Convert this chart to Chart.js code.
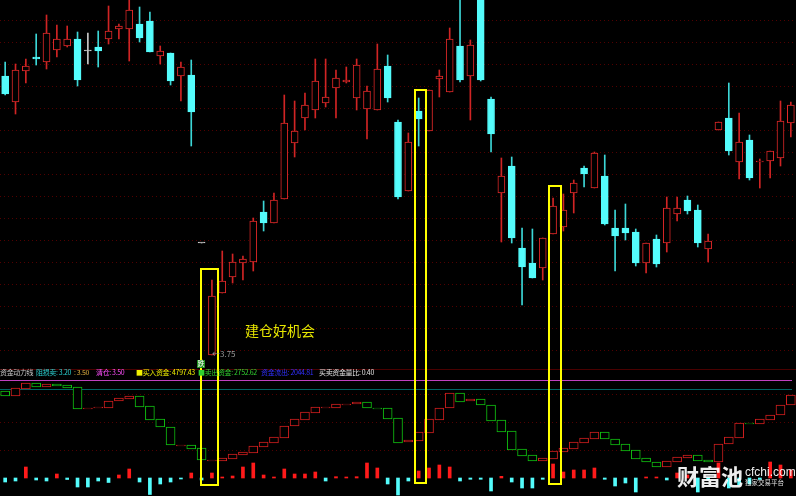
<!DOCTYPE html>
<html><head><meta charset="utf-8">
<script src="https://cdn.jsdelivr.net/npm/chart.js@4/dist/chart.umd.min.js"></script>
<style>
html,body{margin:0;padding:0;background:#000;overflow:hidden}
#wrap{position:relative;width:796px;height:496px;background:#000}
#c{position:absolute;left:0;top:0}
.t{position:absolute;white-space:nowrap;font-family:"Noto Sans CJK SC","Noto Sans",sans-serif;line-height:1}
.lg{top:369px;font-size:7px;letter-spacing:-0.35px}
</style></head><body>
<div id="wrap">
<canvas id="c" width="796" height="496"></canvas>
<span class="t" style="left:245px;top:323px;font-size:14px;color:#e6e600">建仓好机会</span>
<span class="t" style="left:212px;top:350px;font-size:8px;color:#9a9a9a">←3.75</span>
<span class="t" style="left:197px;top:360px;width:8px;height:8px;font-size:7px;background:#1c8c1c;color:#fff;text-align:center">跌</span>
<span class="t lg" style="left:0px;color:#c8c8c8">资金动力线</span>
<span class="t lg" style="left:36px;color:#2ad4d4">阻损卖: 3.20</span>
<span class="t lg" style="left:74px;color:#e0b040">: 3.50</span>
<span class="t lg" style="left:96px;color:#ff50ff">清仓: 3.50</span>
<span class="t lg" style="left:136px;color:#f0f000">■买入资金: 4797.43</span>
<span class="t lg" style="left:198px;color:#30d030">■卖出资金: 2752.62</span>
<span class="t lg" style="left:261px;color:#3030ff">资金流出: 2044.81</span>
<span class="t lg" style="left:319px;color:#e0e0e0">买卖资金量比: 0.40</span>
<span class="t" style="left:677px;top:464px;font-size:22px;font-weight:bold;color:rgba(255,255,255,0.93)">财富池</span>
<span class="t" style="left:745px;top:466px;font-size:12px;color:rgba(255,255,255,0.93);font-family:'Liberation Sans',sans-serif">cfchi.com</span>
<span class="t" style="left:745px;top:479px;font-size:6.5px;color:rgba(255,255,255,0.88)">独家交易平台</span>
</div>
<script>
// ---- price candles (OHLC) ----
const opens = [6.54,6.28,6.59,6.73,6.68,6.80,6.84,6.91,6.79,6.83,
6.91,7.01,7.01,7.06,7.09,6.74,6.77,6.54,6.55,4.87,
3.75,4.37,4.53,4.67,4.68,5.18,5.07,5.31,5.87,6.12,
6.20,6.27,6.42,6.48,6.32,6.21,6.20,6.64,6.08,5.39,
6.19,5.99,6.51,6.38,6.84,6.54,7.35,6.31,5.37,5.64,
4.82,4.67,4.62,4.96,5.03,5.37,5.62,5.42,5.54,5.02,
5.02,4.98,4.67,4.91,4.87,5.16,5.30,5.20,4.81,6.00,
6.12,5.68,5.90,5.68,5.69,5.72,6.07];
const closes = [6.36,6.60,6.64,6.71,6.97,6.91,6.91,6.50,6.79,6.79,
6.99,7.04,7.20,6.92,6.78,6.79,6.49,6.63,6.18,4.87,
4.34,4.49,4.68,4.71,5.09,5.07,5.30,6.07,5.99,6.25,
6.49,6.33,6.52,6.50,6.65,6.39,6.61,6.32,5.33,5.88,
6.11,6.40,6.54,6.91,6.50,6.85,6.50,5.96,5.54,4.92,
4.63,4.52,4.92,5.24,5.20,5.47,5.56,5.77,5.06,4.94,
4.97,4.67,4.87,4.66,5.22,5.22,5.19,4.87,4.89,6.08,
5.79,5.88,5.52,5.69,5.79,6.09,6.25];
const highs = [6.68,6.66,6.71,6.96,7.15,7.05,7.04,6.98,6.97,6.99,
7.24,7.06,7.31,7.23,7.18,6.84,6.77,6.68,6.70,4.87,
4.50,4.79,4.76,4.74,5.12,5.29,5.37,6.35,6.29,6.37,
6.71,6.71,6.60,6.63,6.71,6.44,6.86,6.75,6.10,5.97,
6.32,6.40,6.60,7.02,7.31,6.90,7.35,6.33,5.72,5.73,
5.02,5.01,4.92,5.32,5.36,5.50,5.64,5.78,5.75,5.20,
5.26,5.01,4.87,4.95,5.33,5.33,5.34,5.25,4.96,6.08,
6.47,6.17,5.95,5.71,5.79,6.29,6.28];
const lows = [6.35,6.16,6.47,6.65,6.61,6.73,6.83,6.44,6.66,6.63,
6.86,6.91,6.69,6.88,6.78,6.66,6.45,6.29,5.84,4.87,
3.75,4.37,4.47,4.50,4.59,4.99,5.07,5.31,5.73,6.00,
6.12,6.23,6.12,6.47,6.20,5.91,6.20,6.28,5.31,5.39,
5.84,5.99,6.33,6.38,6.48,6.10,6.49,5.78,4.88,4.87,
4.25,4.52,4.50,4.96,4.99,5.17,5.43,5.42,5.05,4.59,
4.90,4.64,4.57,4.63,4.78,5.09,5.16,4.83,4.68,6.00,
5.75,5.51,5.50,5.42,5.52,5.64,5.93];

// ---- 资金动力线 boxes (open / close) ----
const flowOpen = [89,84,91,97,93,96,95,93,71,72,
72,79,81,84,74,61,53,34,35,32,
19,19,21,25,27,33,37,42,54,60,
67,72,72,75,76,78,72,72,62,38,
39,47,60,72,87,79,81,75,60,49,
31,25,19,21,28,31,37,41,48,41,
36,30,22,18,13,18,22,25,20,18,
36,42,57,56,60,65,75];
const flowClose = [84,92,97,93,96,94,92,71,72,73,
79,82,84,73,60,53,35,35,31,20,
20,22,26,28,34,38,43,54,61,68,
73,73,76,76,78,72,71,61,37,40,
48,61,72,87,78,81,75,59,48,30,
24,19,22,29,32,38,42,48,41,35,
29,21,18,13,19,23,25,19,18,36,
43,57,56,61,65,75,85];

// ---- 资金 bars (buy +, sell -) ----
const flowBars = [-4,-3,11,-2,-3,4,-1.5,-9,-9,-3,
-4.5,3,9,-4,-16.5,-6,-4,-1,5,-2,
5,1,2,11,15,3,0.7,9,4,4,
6,-3,1.3,0.7,1.3,15,10,-6,-17,-3,
7,10,13,11,-3,-1.3,-1.3,-13,1.7,-4,
-10,-10,-1.3,14,6,8,8,10,-1.3,-8,
-5,-14,1,0.7,-2,5,3,-14,-2,15,
-10,-7,-6,-1.5,16,13,8];

const days = opens.map((_, i) => 'D' + (i + 1));

// highlight boxes (category index span, top price, bottom on bar scale)
const boxFrom = [18.85, 39.55, 52.5];
const boxTo = [20.7, 40.8, 53.85];
const boxTopPrice = [4.62, 6.41, 5.45];
const boxBottomBar = [-8, -5.5, -7];

const RED = '#e02828', CYAN = '#54fcfc', DOJI = '#c8c8c8', GREEN = '#10c010';
const isUp = i => closes[i] > opens[i];
const isFlat = i => closes[i] === opens[i];
const candleCol = i => isFlat(i) ? DOJI : (isUp(i) ? RED : CYAN);
const wickCol = i => isFlat(i) ? DOJI : (isUp(i) ? '#d02424' : '#3cd6d6');

const decor = {
  id: 'decor',
  beforeDatasetsDraw(chart) {
    const {ctx, chartArea: a, scales} = chart;
    const yP = scales.yP, yI = scales.yI;
    ctx.save();
    ctx.lineWidth = 1;
    ctx.setLineDash([1, 3]);
    ctx.strokeStyle = '#520000';
    for (let k = 0; k < 16; k++) {
      const y = Math.round(yP.getPixelForValue(7.10 - 0.22 * k)) + 0.5;
      ctx.beginPath(); ctx.moveTo(a.left, y); ctx.lineTo(a.right, y); ctx.stroke();
    }
    [86, 58, 30].forEach(v => {
      const y = Math.round(yI.getPixelForValue(v)) + 0.5;
      ctx.beginPath(); ctx.moveTo(a.left, y); ctx.lineTo(a.right, y); ctx.stroke();
    });
    ctx.setLineDash([]);
    const hl = (y, col, x2) => { y = Math.round(y) + 0.5; ctx.strokeStyle = col; ctx.beginPath(); ctx.moveTo(a.left, y); ctx.lineTo(x2, y); ctx.stroke(); };
    hl(yP.getPixelForValue(3.61), '#4a0000', a.right);
    hl(yI.getPixelForValue(100), '#c040c0', a.right - 4);
    hl(yI.getPixelForValue(91.5), '#006464', a.right - 4);
    ctx.restore();
  },
  afterDatasetsDraw(chart) {
    const {ctx, scales} = chart;
    ctx.save();
    ctx.strokeStyle = '#ffff00';
    ctx.lineWidth = 2;
    boxFrom.forEach((f, k) => {
      const x1 = scales.x.getPixelForValue(f), x2 = scales.x.getPixelForValue(boxTo[k]);
      const y1 = scales.yP.getPixelForValue(boxTopPrice[k]), y2 = scales.yV.getPixelForValue(boxBottomBar[k]);
      ctx.strokeRect(Math.round(x1) + 1, Math.round(y1) + 1, Math.round(x2 - x1) - 2, Math.round(y2 - y1) - 2);
    });
    ctx.restore();
  }
};

new Chart(document.getElementById('c'), {
  type: 'bar',
  data: {
    labels: days,
    datasets: [
      {label: 'wick', yAxisID: 'yP', order: 3, grouped: false, barThickness: 1,
       data: highs.map((h, i) => [lows[i], h]),
       backgroundColor: highs.map((_, i) => wickCol(i))},
      {label: 'body', yAxisID: 'yP', order: 2, grouped: false, barThickness: 7,
       minBarLength: 1, borderWidth: 1, borderSkipped: false,
       data: opens.map((o, i) => [o, closes[i]]),
       backgroundColor: opens.map((_, i) => isFlat(i) ? DOJI : (isUp(i) ? '#000' : CYAN)),
       borderColor: opens.map((_, i) => candleCol(i))},
      {label: 'flow', yAxisID: 'yI', order: 1, grouped: false, barThickness: 9,
       minBarLength: 1, borderWidth: 1, borderSkipped: false,
       data: flowOpen.map((o, i) => [o, flowClose[i]]),
       backgroundColor: '#000',
       borderColor: flowOpen.map((o, i) => flowClose[i] >= o ? '#d01e1e' : GREEN)},
      {label: 'bars', yAxisID: 'yV', order: 1, grouped: false, barThickness: 3,
       minBarLength: 1,
       data: flowBars,
       backgroundColor: flowBars.map(v => v >= 0 ? '#ff1a1a' : CYAN)}
    ]
  },
  options: {
    responsive: false, animation: false,
    layout: {padding: 0},
    plugins: {legend: {display: false}, tooltip: {enabled: false}},
    scales: {
      x: {type: 'category', display: false, offset: true},
      yP: {display: false, min: 2.34, max: 7.30},
      yI: {display: false, min: -16, max: 480},
      yV: {display: false, min: -18, max: 478}
    }
  },
  plugins: [decor]
});
</script>
</body></html>
